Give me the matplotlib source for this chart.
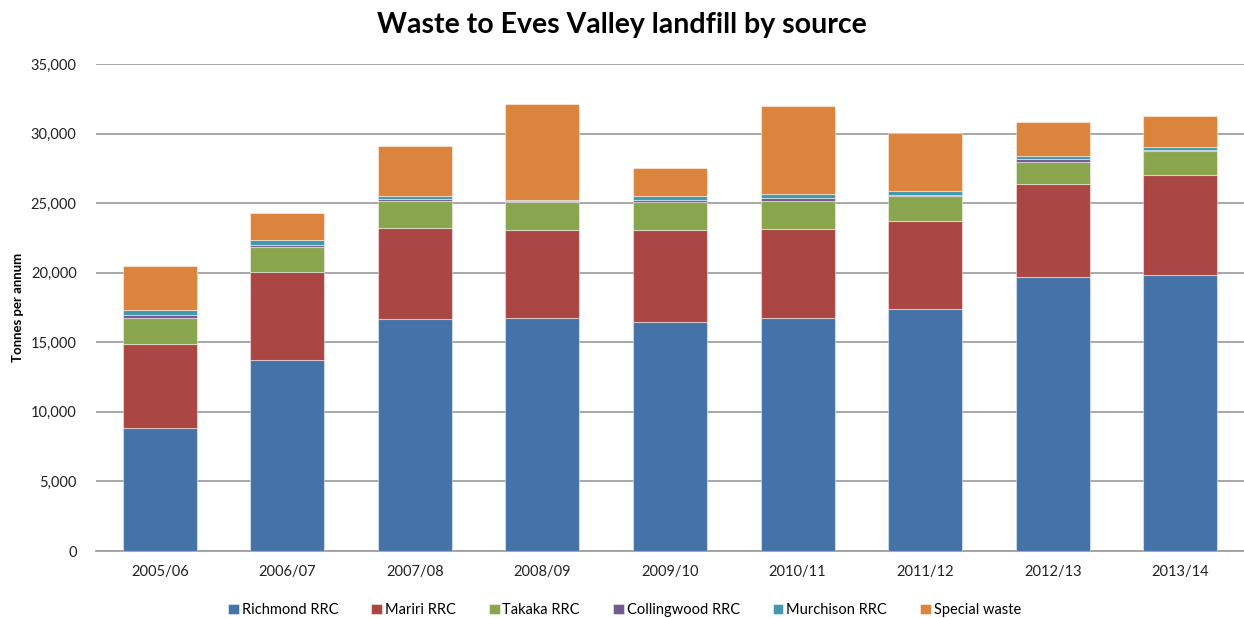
import numpy as np
import matplotlib.pyplot as plt
from matplotlib.ticker import FuncFormatter

plt.rcParams['font.family'] = ['Lato', 'DejaVu Sans']

years = ['2005/06', '2006/07', '2007/08', '2008/09', '2009/10',
         '2010/11', '2011/12', '2012/13', '2013/14']

# tonnes per annum by source
richmond = [8830, 13720, 16680, 16750, 16460, 16750, 17390, 19670, 19860]
mariri = [6040, 6330, 6560, 6350, 6640, 6420, 6360, 6720, 7170]
takaka = [1860, 1800, 1920, 1970, 1970, 1990, 1800, 1600, 1710]
collingwood = [210, 170, 170, 70, 170, 200, 70, 150, 90]
murchison = [360, 310, 220, 120, 310, 290, 290, 240, 200]
special = [3210, 1990, 3570, 6880, 1970, 6350, 4150, 2450, 2270]

sources = ['Richmond RRC', 'Mariri RRC', 'Takaka RRC', 'Collingwood RRC',
           'Murchison RRC', 'Special waste']
colours = ['#4572A7', '#AA4643', '#89A54E', '#71588F', '#4198AF', '#DB843D']

fig = plt.figure(figsize=(12.44, 6.18), dpi=100)
ax = fig.add_axes([0.0772, 0.1084, 0.9228, 0.788])

x = np.arange(len(years))
bottom = np.zeros(len(years))
for name, vals, c in zip(sources, [richmond, mariri, takaka, collingwood, murchison, special], colours):
    ax.bar(x, vals, 0.58, bottom=bottom, color=c, label=name,
           edgecolor=(1, 1, 1, 0.45), linewidth=0.8, zorder=3)
    bottom += np.array(vals)

ax.set_xlim(-0.5, len(years) - 0.5)
ax.set_ylim(0, 35000)
ax.set_yticks(np.arange(0, 35001, 5000))
ax.yaxis.set_major_formatter(FuncFormatter(lambda v, p: f'{int(v):,}'))
ax.set_xticks(x)
ax.set_xticklabels(years)
ax.tick_params(axis='both', length=0, labelsize=10.5, colors='#222222')
ax.tick_params(axis='y', pad=14)
ax.tick_params(axis='x', pad=10)
ax.grid(axis='y', color='#a0a0a0', linewidth=1.3, zorder=0)
for s in ['top', 'right', 'left']:
    ax.spines[s].set_visible(False)
ax.spines['bottom'].set_color('#a0a0a0')
ax.spines['bottom'].set_linewidth(1.3)

ax.set_ylabel('Tonnes per annum', fontsize=9.5, fontweight='bold', labelpad=5)
fig.text(0.5, 0.96, 'Waste to Eves Valley landfill by source', ha='center', va='center',
         fontsize=20.5, fontweight='bold')

fig.legend(loc='center', bbox_to_anchor=(0.502, 0.013), ncol=6, frameon=False,
           fontsize=10.5, handlelength=0.75, handleheight=0.75, handletextpad=0.2,
           columnspacing=2.25)

fig.savefig('out.png', dpi=100)
